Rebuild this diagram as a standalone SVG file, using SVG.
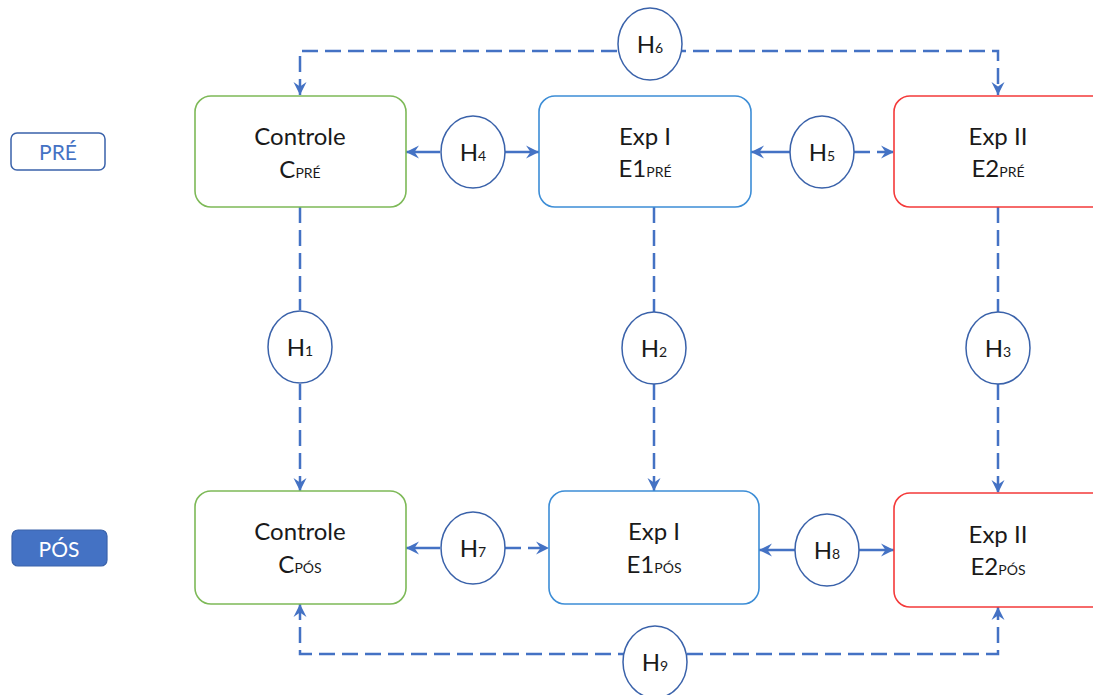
<svg xmlns="http://www.w3.org/2000/svg" width="1093" height="695" viewBox="0 0 1093 695">
<style>
.box{fill:#fff;stroke-width:1.6}
.g{stroke:#7DB957}.b{stroke:#3C8DD6}.r{stroke:#F43A3A}
.h{fill:#fff;stroke:#3A62AA;stroke-width:1.5}
.t{font-family:Lato,"Liberation Sans",sans-serif;fill:#1a1a1a;text-anchor:middle}
.big{font-size:24px}
.sub{font-size:14px}
.c{fill:none;stroke:#4472C4;stroke-width:2.5}
.d{stroke-dasharray:16 7}
</style>
<defs>
<marker id="ar" markerUnits="userSpaceOnUse" markerWidth="14" markerHeight="14" refX="13" refY="7" orient="auto-start-reverse" viewBox="0 0 14 14">
<path d="M0,0.5 L13,7 L0,13.5 L4.5,7 z" fill="#4472C4"/>
</marker>
</defs>
<rect width="1093" height="695" fill="#fff"/>

<g id="label-pre">
<rect x="11" y="133" width="94" height="37" rx="6" fill="#fff" stroke="#3A62AA" stroke-width="1.5"/>
<text x="58" y="160" font-family="Lato,'Liberation Sans',sans-serif" font-size="21" fill="#4472C4" text-anchor="middle">PRÉ</text>
</g>
<g id="label-pos">
<rect x="12" y="530" width="95" height="36" rx="6" fill="#4472C4" stroke="#3A62AA" stroke-width="1.2"/>
<text x="59" y="557" font-family="Lato,'Liberation Sans',sans-serif" font-size="21" fill="#fff" text-anchor="middle">PÓS</text>
</g>

<g id="connectors">
<path class="c d" d="M300,95 V51 H998 V95" marker-start="url(#ar)" marker-end="url(#ar)"/>
<path class="c" d="M440,152 H406" marker-end="url(#ar)"/>
<path class="c" d="M505,152 H539" marker-end="url(#ar)"/>
<path class="c" d="M790,152 H751" marker-end="url(#ar)"/>
<path class="c d" d="M854,152 H894" marker-end="url(#ar)"/>
<path class="c d" d="M300,207 V310"/>
<path class="c d" d="M300,384 V491" marker-end="url(#ar)"/>
<path class="c d" d="M654,207 V312"/>
<path class="c d" d="M654,384 V491" marker-end="url(#ar)"/>
<path class="c d" d="M998,207 V312"/>
<path class="c d" d="M998,384 V493" marker-end="url(#ar)"/>
<path class="c" d="M440,548 H406" marker-end="url(#ar)"/>
<path class="c d" d="M505,548 H549" marker-end="url(#ar)"/>
<path class="c" d="M795,550 H759" marker-end="url(#ar)"/>
<path class="c" d="M859,550 H894" marker-end="url(#ar)"/>
<path class="c d" d="M300,604 V654 H998 V607" marker-start="url(#ar)" marker-end="url(#ar)"/>
</g>

<g id="c-pre">
<rect class="box g" x="195" y="96" width="211" height="111" rx="16"/>
<text class="t big" x="300" y="145">Controle</text>
<text class="t big" x="300" y="178">C<tspan class="sub">PRÉ</tspan></text>
</g>
<g id="e1-pre">
<rect class="box b" x="539" y="96" width="212" height="111" rx="16"/>
<text class="t big" x="645" y="145">Exp I</text>
<text class="t big" x="645" y="177">E1<tspan class="sub">PRÉ</tspan></text>
</g>
<g id="e2-pre">
<rect class="box r" x="894" y="96" width="215" height="111" rx="16"/>
<text class="t big" x="998" y="145">Exp II</text>
<text class="t big" x="998" y="177">E2<tspan class="sub">PRÉ</tspan></text>
</g>
<g id="c-pos">
<rect class="box g" x="195" y="491" width="211" height="113" rx="16"/>
<text class="t big" x="300" y="540">Controle</text>
<text class="t big" x="300" y="573">C<tspan class="sub">PÓS</tspan></text>
</g>
<g id="e1-pos">
<rect class="box b" x="549" y="491" width="210" height="113" rx="16"/>
<text class="t big" x="654" y="540">Exp I</text>
<text class="t big" x="654" y="573">E1<tspan class="sub">PÓS</tspan></text>
</g>
<g id="e2-pos">
<rect class="box r" x="894" y="493" width="215" height="114" rx="16"/>
<text class="t big" x="998" y="543">Exp II</text>
<text class="t big" x="998" y="575">E2<tspan class="sub">PÓS</tspan></text>
</g>

<g id="h1"><ellipse class="h" cx="300" cy="347" rx="32" ry="36"/><text class="t big" x="300" y="356">H<tspan class="sub">1</tspan></text></g>
<g id="h2"><ellipse class="h" cx="654" cy="348" rx="32" ry="36"/><text class="t big" x="654" y="357">H<tspan class="sub">2</tspan></text></g>
<g id="h3"><ellipse class="h" cx="998" cy="348" rx="32" ry="36"/><text class="t big" x="998" y="357">H<tspan class="sub">3</tspan></text></g>
<g id="h4"><ellipse class="h" cx="473" cy="152" rx="32" ry="36"/><text class="t big" x="473" y="161">H<tspan class="sub">4</tspan></text></g>
<g id="h5"><ellipse class="h" cx="822" cy="152" rx="32" ry="36"/><text class="t big" x="822" y="161">H<tspan class="sub">5</tspan></text></g>
<g id="h6"><ellipse class="h" cx="650" cy="44" rx="32" ry="36"/><text class="t big" x="650" y="53">H<tspan class="sub">6</tspan></text></g>
<g id="h7"><ellipse class="h" cx="473" cy="548" rx="32" ry="36"/><text class="t big" x="473" y="557">H<tspan class="sub">7</tspan></text></g>
<g id="h8"><ellipse class="h" cx="827" cy="550" rx="32" ry="36"/><text class="t big" x="827" y="559">H<tspan class="sub">8</tspan></text></g>
<g id="h9"><ellipse class="h" cx="655" cy="662" rx="32" ry="36"/><text class="t big" x="655" y="671">H<tspan class="sub">9</tspan></text></g>
</svg>
